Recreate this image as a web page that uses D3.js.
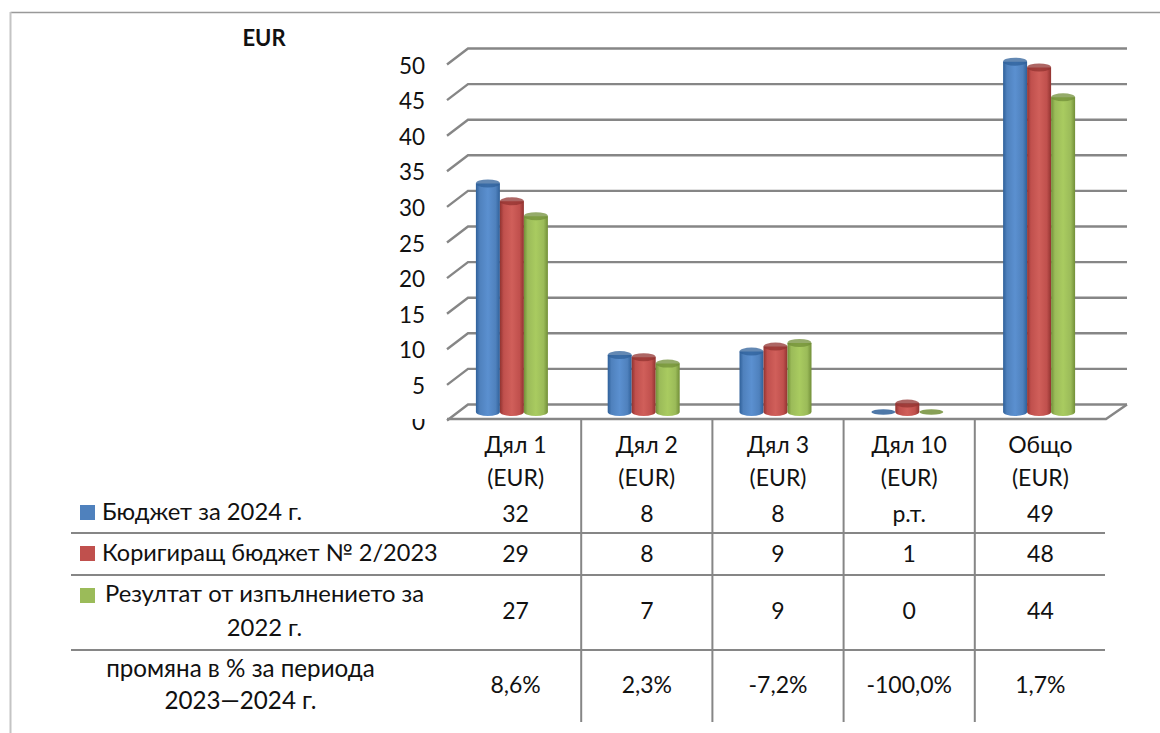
<!DOCTYPE html>
<html>
<head>
<meta charset="utf-8">
<script src="https://cdn.jsdelivr.net/npm/d3@7"></script>
<style>
  html, body { margin: 0; padding: 0; background: #fff; }
  svg { display: block; }
  text { font-family: Lato, "Open Sans", sans-serif; fill: #111; }
</style>
</head>
<body>
<div id="chart"></div>
<script>
(function(){
  'use strict';

  // data
  var categories = ['Дял 1', 'Дял 2', 'Дял 3', 'Дял 10', 'Общо'];
  var unitLabel = '(EUR)';
  var seriesNames = ['budget', 'amending', 'outturn'];
  var budget = [32.1, 8.0, 8.5, 0, 49.2];
  var amending = [29.6, 7.7, 9.2, 1.2, 48.4];
  var outturn = [27.5, 6.8, 9.7, 0, 44.2];
  var yTicks = [0, 5, 10, 15, 20, 25, 30, 35, 40, 45, 50];
  var colors = ['#4f81bd', '#c0504d', '#9bbb59'];
  var darks = ['#2f6099', '#913330', '#728f38'];
  var lights = ['#5b90d0', '#d05f5a', '#a9cb60'];

  // table rows: legend text + the labels printed in each column
  var rowBudget = ['32', '8', '8', 'р.т.', '49'];
  var rowAmending = ['29', '8', '9', '1', '48'];
  var rowOutturn = ['27', '7', '9', '0', '44'];
  var rowChange = ['8,6%', '2,3%', '-7,2%', '-100,0%', '1,7%'];
  var rowHeads = [
    ['Бюджет за 2024 г.'],
    ['Коригиращ бюджет № 2/2023'],
    ['Резултат от изпълнението за', '2022 г.'],
    ['промяна в % за периода', '2023—2024 г.']
  ];

  var w = 1160, h = 733;
  var svg = d3.select('#chart').append('svg').attr('width', w).attr('height', h);
  var values = [budget, amending, outturn];

  // 3d wall offset
  var depthX = 21, depthY = 16;
  var y = d3.scaleLinear().domain([0, 50]).range([404.5, 48.5]);
  var x0 = d3.scaleBand().domain(categories).range([446, 1105]);
  var x1 = d3.scaleBand().domain(seriesNames).range([-36, 36]);
  var tableX = d3.scaleBand().domain(categories).range([450, 1106]);
  var grey = '#868686';

  // gradients for the cylinders
  var defs = svg.append('defs');
  colors.forEach(function(c, i) {
    var g = defs.append('linearGradient').attr('id', 'cyl' + i);
    g.append('stop').attr('offset', '0%').attr('stop-color', darks[i]);
    g.append('stop').attr('offset', '16%').attr('stop-color', c);
    g.append('stop').attr('offset', '50%').attr('stop-color', lights[i]);
    g.append('stop').attr('offset', '82%').attr('stop-color', c);
    g.append('stop').attr('offset', '100%').attr('stop-color', darks[i]);
  });
  defs.append('clipPath').attr('id', 'zero-clip').append('rect')
    .attr('x', 390).attr('y', 419).attr('width', 50).attr('height', 30);

  // outer frame
  svg.append('line').attr('x1', 10.5).attr('x2', w).attr('y1', 12.5).attr('y2', 12.5)
    .style('stroke', '#999').style('stroke-width', 1.5);
  svg.append('line').attr('x1', 10.5).attr('x2', 10.5).attr('y1', 12).attr('y2', h)
    .style('stroke', '#c4c4c4').style('stroke-width', 2);

  svg.append('text').attr('x', 264).attr('y', 46)
    .attr('text-anchor', 'middle').style('font-size', '22px').style('font-weight', 700)
    .text('EUR');

  // gridlines on the back wall and the side wall
  var grid = svg.append('g').style('stroke', grey).style('fill', 'none').style('stroke-width', 2.4);
  yTicks.forEach(function(t) {
    var yy = y(t);
    grid.append('path').attr('d', 'M447,' + (yy + depthY) + 'L468,' + yy + 'H1127');
  });
  // floor
  svg.append('path')
    .attr('d', 'M447,' + (y(0) + 14.5) + 'H1106L1127,' + y(0))
    .style('fill', 'none').style('stroke', grey).style('stroke-width', 2.4);

  // tick labels
  svg.append('g').selectAll('text').data(yTicks).enter().append('text')
    .attr('x', 425).attr('y', function(d) { return y(d) + depthY + 9; })
    .attr('text-anchor', 'end')
    .attr('clip-path', function(d) { return d === 0 ? 'url(#zero-clip)' : null; })
    .style('font-size', '22.5px')
    .text(function(d) { return d; });

  // cylinders
  var rx = 12, ry = 4, base = 412;
  var unit = y(0) - y(1);
  seriesNames.forEach(function(name, s) {
    var g = svg.append('g');
    categories.forEach(function(cat, i) {
      var v = values[s][i];
      var cx = x0(cat) + x0.bandwidth() / 2 + x1(name) + x1.bandwidth() / 2;
      var top = base - v * unit;
      if (v === 0) {
        g.append('ellipse').attr('cx', cx).attr('cy', base).attr('rx', rx).attr('ry', 2.8)
          .style('fill', darks[s]).style('opacity', 0.85);
        return;
      }
      g.append('path')
        .attr('d', 'M' + (cx - rx) + ',' + top + 'V' + base +
          'A' + rx + ',' + ry + ' 0 0 0 ' + (cx + rx) + ',' + base +
          'V' + top + 'Z')
        .style('fill', 'url(#cyl' + s + ')');
      g.append('ellipse').attr('cx', cx).attr('cy', top).attr('rx', rx).attr('ry', ry)
        .style('fill', darks[s]).style('opacity', 0.75);
    });
  });

  // table lines
  var lines = svg.append('g').style('stroke', grey).style('stroke-width', 2);
  [533, 575, 650].forEach(function(yy) {
    lines.append('line').attr('x1', 71).attr('x2', 1105).attr('y1', yy).attr('y2', yy);
  });
  categories.slice(1).forEach(function(cat) {
    lines.append('line').attr('x1', tableX(cat)).attr('x2', tableX(cat)).attr('y1', 420).attr('y2', 722);
  });

  // column heads
  var cellSize = '23px';
  categories.forEach(function(cat) {
    var cx = tableX(cat) + tableX.bandwidth() / 2;
    svg.append('text').attr('x', cx).attr('y', 453).attr('text-anchor', 'middle').style('font-size', cellSize).text(cat);
    svg.append('text').attr('x', cx).attr('y', 486).attr('text-anchor', 'middle').style('font-size', cellSize).text(unitLabel);
  });

  // table rows
  var rowY = [522, 562, 619, 693];
  [rowBudget, rowAmending, rowOutturn, rowChange].forEach(function(row, r) {
    categories.forEach(function(cat, i) {
      svg.append('text').attr('x', tableX(cat) + tableX.bandwidth() / 2).attr('y', rowY[r])
        .attr('text-anchor', 'middle').style('font-size', cellSize).text(row[i]);
    });
  });

  // row heads with legend keys
  var swatchY = [505, 546, 588];
  swatchY.forEach(function(sy, i) {
    svg.append('rect').attr('x', 80).attr('y', sy).attr('width', 15).attr('height', 15).style('fill', colors[i]);
  });
  var headAttrs = [
    {x: 102, y: [520], anchor: 'start', size: '23.8px'},
    {x: 102, y: [561], anchor: 'start', size: '23.5px'},
    {x: 264.5, y: [602, 636], anchor: 'middle', size: '23.8px'},
    {x: 240.5, y: [677, 709], anchor: 'middle', size: '24.2px'}
  ];
  rowHeads.forEach(function(lns, r) {
    lns.forEach(function(t, j) {
      svg.append('text').attr('x', headAttrs[r].x).attr('y', headAttrs[r].y[j])
        .attr('text-anchor', headAttrs[r].anchor).style('font-size', headAttrs[r].size).text(t);
    });
  });

}());
</script>
</body>
</html>
